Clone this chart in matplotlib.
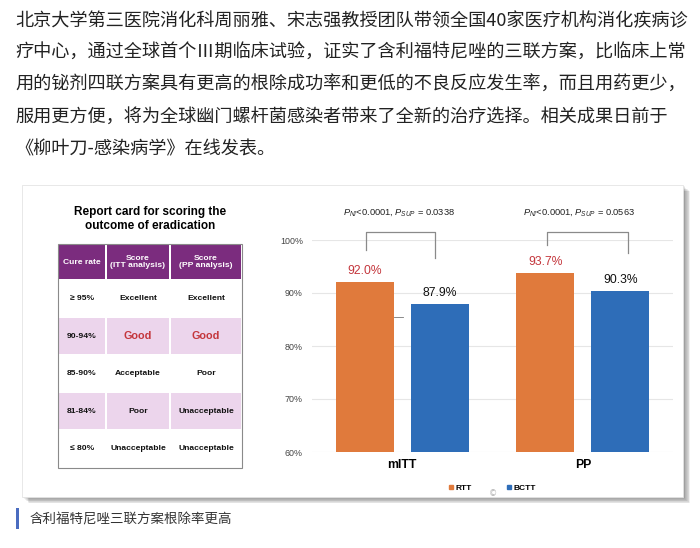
import numpy as np
import matplotlib.pyplot as plt
from matplotlib.patches import Rectangle
from matplotlib.lines import Line2D

plt.rcParams['mathtext.fontset'] = 'custom'
plt.rcParams['mathtext.rm'] = 'Liberation Sans'
plt.rcParams['mathtext.it'] = 'Liberation Sans:italic'

# article text
para_lines = [
    "北京大学第三医院消化科周丽雅、宋志强教授团队带领全国40家医疗机构消化疾病诊",
    "疗中心，通过全球首个Ⅲ期临床试验，证实了含利福特尼唑的三联方案，比临床上常",
    "用的铋剂四联方案具有更高的根除成功率和更低的不良反应发生率，而且用药更少，",
    "服用更方便，将为全球幽门螺杆菌感染者带来了全新的治疗选择。相关成果日前于",
    "《柳叶刀-感染病学》在线发表。",
]
caption = "含利福特尼唑三联方案根除率更高"

# report card table
table_title = "Report card for scoring the\noutcome of eradication"
table_header = ["Cure rate", "Score\n(ITT analysis)", "Score\n(PP analysis)"]
cure_rates = ["≥ 95%", "90-94%", "85-90%", "81-84%", "≤ 80%"]
itt_scores = ["Excellent", "Good", "Acceptable", "Poor", "Unacceptable"]
pp_scores = ["Excellent", "Good", "Poor", "Unacceptable", "Unacceptable"]

# bar chart data
groups = ["mITT", "PP"]
rtt = [92.0, 93.7]
bctt = [87.9, 90.3]
p_texts = [r"$P_{NI}$<0.0001, $P_{SUP}$ = 0.0338",
           r"$P_{NI}$<0.0001, $P_{SUP}$ = 0.0563"]

orange = "#E07A3C"
blue = "#2E6DB8"
red = "#C4363C"
purple = "#7B2C7E"
pink = "#ECD5EC"
cjk = ["Noto Sans CJK SC", "DejaVu Sans"]
lat = ["Liberation Sans", "DejaVu Sans"]

fig = plt.figure(figsize=(7, 5.48), dpi=100)
bg = fig.add_axes([0, 0, 1, 1])
bg.set_xlim(0, 700)
bg.set_ylim(548, 0)
bg.axis("off")

# paragraph
for i, line in enumerate(para_lines):
    bg.text(15, 21 + i * 32, line, fontsize=13.1, family=cjk, color="#222222",
            va="center", ha="left")

# slide frame with shadow
fx0, fy0, fx1, fy1 = 22, 185, 683, 497
for d in range(9, 0, -1):
    bg.add_patch(Rectangle((fx0 + d * 0.8, fy0 + d * 0.7), fx1 - fx0, fy1 - fy0,
                           facecolor="black", alpha=0.055, edgecolor="none"))
bg.add_patch(Rectangle((fx0, fy0), fx1 - fx0, fy1 - fy0, facecolor="white",
                       edgecolor="#e4e4e4", lw=0.6))

# table
bg.text(150, 219, table_title, fontsize=8.5, family=lat, weight="bold",
        ha="center", va="center", linespacing=1.15)
col_edges = [58, 106, 170, 242]
row_edges = [244, 280, 317.5, 355, 392.5, 430, 467.5]
gap = 0.8
rows = [table_header] + [list(r) for r in zip(cure_rates, itt_scores, pp_scores)]
for r in range(len(rows)):
    y0, y1 = row_edges[r], row_edges[r + 1]
    if r == 0:
        fc = purple
    elif r % 2 == 0:
        fc = pink
    else:
        fc = "white"
    for c in range(3):
        x0, x1 = col_edges[c], col_edges[c + 1]
        bg.add_patch(Rectangle((x0 + gap, y0 + gap), x1 - x0 - 2 * gap,
                               y1 - y0 - 2 * gap, facecolor=fc, edgecolor="none"))
        txt = rows[r][c]
        color = "white" if r == 0 else "#111111"
        size = 6.1
        if txt == "Good":
            color, size = red, 7.8
        bg.text((x0 + x1) / 2, (y0 + y1) / 2, txt, fontsize=size, family=lat,
                weight="bold", color=color, ha="center", va="center",
                linespacing=1.1)
bg.add_patch(Rectangle((col_edges[0], row_edges[0]), col_edges[-1] - col_edges[0],
                       row_edges[-1] - row_edges[0], facecolor="none",
                       edgecolor="#8a8a8a", lw=0.8))

# caption
bg.add_patch(Rectangle((16, 508), 3, 21, facecolor="#4A6CC0", edgecolor="none"))
bg.text(30, 519, caption, fontsize=9.7, family=cjk, color="#333333",
        va="center", ha="left")
bg.text(493, 494, "©", fontsize=6, color="#b0b0b0", ha="center", va="center")

# bar chart
ax = fig.add_axes([312 / 700, 96 / 548, 361 / 700, 212 / 548])
ax.set_facecolor("none")
x = np.arange(len(groups))
off, w = 0.208, 0.322
ax.bar(x - off, rtt, w, color=orange, zorder=3)
ax.bar(x + off, bctt, w, color=blue, zorder=3)
ax.set_xlim(-0.5, 1.5)
ax.set_ylim(60, 100)
ax.set_yticks([60, 70, 80, 90, 100])
ax.set_yticklabels([f"{v}%" for v in [60, 70, 80, 90, 100]], fontsize=6.4,
                   family=lat, color="#444444")
ax.set_xticks(x)
ax.set_xticklabels(groups, fontsize=8.8, family=lat, weight="bold")
ax.tick_params(length=0)
ax.tick_params(axis="y", pad=6.5)
ax.tick_params(axis="x", pad=5)
ax.grid(axis="y", color="#e6e6e6", lw=0.8, zorder=0)
for s in ax.spines.values():
    s.set_visible(False)

for i in range(len(groups)):
    ax.annotate(f"{rtt[i]:.1f}%", (x[i] - off, rtt[i]), xytext=(0, 8),
                textcoords="offset points", ha="center", va="center",
                fontsize=8.7, family=lat, color=red)
    ax.annotate(f"{bctt[i]:.1f}%", (x[i] + off, bctt[i]), xytext=(0, 8),
                textcoords="offset points", ha="center", va="center",
                fontsize=8.7, family=lat, color="#111111")
    ax.text(x[i] - 0.02, 105.1, p_texts[i], fontsize=6.7, family=lat,
            ha="center", va="center", clip_on=False, color="#222222")

ax.plot([-0.2, -0.2, 0.183, 0.183], [98.1, 101.5, 101.5, 96.6], color="#8a8a8a",
        lw=0.9, clip_on=False)
ax.plot([0.8, 0.8, 1.25, 1.25], [99.0, 101.5, 101.5, 97.5], color="#8a8a8a",
        lw=0.9, clip_on=False)
ax.plot([-0.044, 0.006], [85.5, 85.5], color="#777777", lw=0.6, zorder=4)

handles = [Line2D([], [], marker="s", ls="", color=orange, markersize=3),
           Line2D([], [], marker="s", ls="", color=blue, markersize=3)]
fig.legend(handles, ["RTT", "BCTT"], loc="center",
           bbox_to_anchor=(492 / 700, 1 - 488 / 548), ncol=2, frameon=False,
           prop={"family": lat, "weight": "bold", "size": 6},
           handlelength=0.6, handletextpad=0.2, columnspacing=4.2)

fig.savefig("out.png", dpi=100)
